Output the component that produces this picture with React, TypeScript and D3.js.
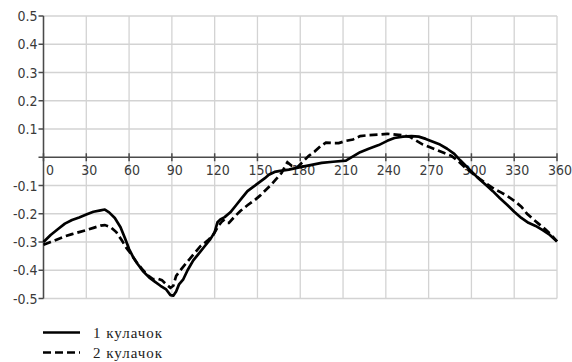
import React from 'react';
import * as d3 from 'd3';

// angle (deg) and value of cam 1
const angles1 = [0, 5, 10, 15, 20, 25, 30, 35, 40, 43, 46, 50, 54, 57, 60, 63, 66, 70, 74, 78, 82, 86, 89, 91, 93, 95, 98, 101, 105, 109, 113, 117, 120, 122, 124, 127, 131, 135, 139, 143, 147, 151, 155, 158, 162, 166, 172, 180, 188, 195, 203, 212, 217, 222, 228, 235, 241, 246, 252, 258, 263, 268, 273, 278, 283, 288, 292, 296, 300, 305, 310, 315, 320, 325, 330, 335, 340, 345, 350, 355, 360];
const values1 = [-0.300, -0.275, -0.255, -0.235, -0.222, -0.213, -0.203, -0.193, -0.188, -0.185, -0.195, -0.215, -0.248, -0.285, -0.325, -0.355, -0.378, -0.405, -0.425, -0.440, -0.455, -0.468, -0.488, -0.490, -0.475, -0.450, -0.432, -0.400, -0.365, -0.340, -0.315, -0.290, -0.265, -0.230, -0.220, -0.212, -0.195, -0.170, -0.145, -0.120, -0.105, -0.090, -0.075, -0.062, -0.052, -0.048, -0.044, -0.035, -0.027, -0.020, -0.016, -0.012, 0.003, 0.018, 0.030, 0.043, 0.058, 0.068, 0.073, 0.075, 0.073, 0.065, 0.055, 0.045, 0.030, 0.012, -0.010, -0.030, -0.050, -0.075, -0.097, -0.120, -0.145, -0.168, -0.193, -0.215, -0.232, -0.243, -0.258, -0.275, -0.298];

// angle (deg) and value of cam 2
const angles2 = [0, 5, 10, 15, 20, 25, 30, 35, 40, 43, 47, 51, 55, 58, 61, 65, 69, 73, 77, 80, 83, 86, 89, 91, 93, 96, 100, 105, 110, 115, 119, 123, 126, 128, 130, 134, 138, 143, 148, 152, 156, 160, 164, 167, 169, 171, 174, 178, 182, 186, 190, 194, 198, 203, 207, 212, 217, 222, 228, 235, 241, 247, 252, 257, 261, 266, 271, 276, 281, 286, 291, 296, 301, 306, 311, 316, 321, 326, 331, 335, 339, 343, 347, 352, 356, 360];
const values2 = [-0.310, -0.300, -0.290, -0.280, -0.272, -0.265, -0.258, -0.250, -0.242, -0.240, -0.247, -0.265, -0.295, -0.320, -0.340, -0.370, -0.395, -0.418, -0.432, -0.430, -0.435, -0.450, -0.462, -0.455, -0.420, -0.400, -0.375, -0.345, -0.315, -0.295, -0.275, -0.240, -0.222, -0.232, -0.232, -0.210, -0.190, -0.170, -0.152, -0.135, -0.115, -0.095, -0.072, -0.055, -0.035, -0.018, -0.030, -0.035, -0.015, 0.005, 0.020, 0.038, 0.052, 0.050, 0.050, 0.058, 0.063, 0.075, 0.078, 0.080, 0.083, 0.080, 0.078, 0.072, 0.060, 0.045, 0.035, 0.025, 0.015, 0.005, -0.015, -0.038, -0.058, -0.077, -0.095, -0.112, -0.125, -0.140, -0.158, -0.175, -0.200, -0.218, -0.235, -0.256, -0.275, -0.298];

const xTicks = [0, 30, 60, 90, 120, 150, 180, 210, 240, 270, 300, 330, 360];
const yTicks = [0.5, 0.4, 0.3, 0.2, 0.1, -0.1, -0.2, -0.3, -0.4, -0.5];
const legendLabels = ['1 кулачок', '2 кулачок'];

const W = 572;
const H = 362;

export default function App() {
  const x = d3.scaleLinear().domain([0, 360]).range([43.5, 557]);
  const y = d3.scaleLinear().domain([-0.5, 0.5]).range([298.5, 16]);

  const line = d3.line<[number, number]>()
    .x(d => x(d[0]))
    .y(d => y(d[1]));

  const s1 = angles1.map((a, i) => [a, values1[i]] as [number, number]);
  const s2 = angles2.map((a, i) => [a, values2[i]] as [number, number]);

  const axisColor = '#4a4a4a';
  const gridColor = '#d3d3d3';
  const labelFont = '"DejaVu Sans Condensed", "DejaVu Sans", sans-serif';
  const legendFont = '"Liberation Serif", serif';

  return (
    <svg width={W} height={H} style={{ position: 'absolute', left: 0, top: 0, background: '#fff' }}>
      {/* grid */}
      {xTicks.map(t => (
        <line key={'gx' + t} x1={x(t)} x2={x(t)} y1={y(0.5)} y2={y(-0.5)}
          stroke={gridColor} strokeWidth={1.3} />
      ))}
      {yTicks.map(t => (
        <line key={'gy' + t} x1={x(0)} x2={x(360)} y1={y(t)} y2={y(t)}
          stroke={gridColor} strokeWidth={1.3} />
      ))}

      {/* axes */}
      <line x1={x(0)} x2={x(0)} y1={y(0.5)} y2={y(-0.5)} stroke={axisColor} strokeWidth={1.5} />
      <line x1={x(0) - 5} x2={x(360)} y1={y(0)} y2={y(0)} stroke={axisColor} strokeWidth={1.5} />
      {yTicks.map(t => (
        <g key={'ty' + t}>
          <line x1={x(0) - 5} x2={x(0)} y1={y(t)} y2={y(t)} stroke={axisColor} strokeWidth={1.5} />
          <text x={x(0) - 6} y={y(t)} dy="0.36em" textAnchor="end"
            fontFamily={labelFont} fontSize={14} fill="#3a3a3a">
            {t < 0 ? '-' + Math.abs(t).toFixed(1) : t.toFixed(1)}
          </text>
        </g>
      ))}
      {xTicks.map(t => (
        <g key={'tx' + t}>
          <line x1={x(t)} x2={x(t)} y1={y(0) - 4} y2={y(0) + 4} stroke={axisColor} strokeWidth={1.5} />
          <text x={x(t) + (t === 0 ? 6.5 : 3)} y={174.5} textAnchor="middle"
            fontFamily={labelFont} fontSize={14} fill="#3a3a3a">
            {t}
          </text>
        </g>
      ))}

      {/* series */}
      <path d={line(s1) ?? ''} fill="none" stroke="#000" strokeWidth={2.7} strokeLinejoin="round" />
      <path d={line(s2) ?? ''} fill="none" stroke="#000" strokeWidth={2.7} strokeDasharray="8,4" />

      {/* legend */}
      <line x1={43} x2={80} y1={332.5} y2={332.5} stroke="#000" strokeWidth={2.7} />
      <text x={93} y={338} fontFamily={legendFont} fontSize={15} letterSpacing={1} fill="#222">{legendLabels[0]}</text>
      <line x1={43} x2={80} y1={352.5} y2={352.5} stroke="#000" strokeWidth={2.7} strokeDasharray="8,4" />
      <text x={93} y={358} fontFamily={legendFont} fontSize={15} letterSpacing={1} fill="#222">{legendLabels[1]}</text>
    </svg>
  );
}
